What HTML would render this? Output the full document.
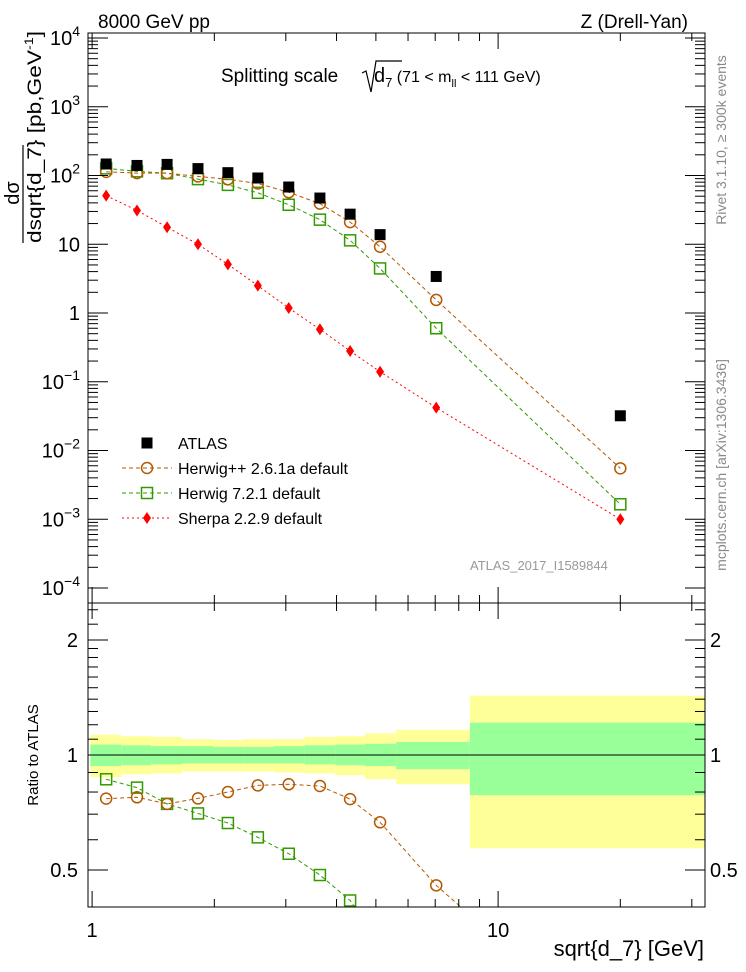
<!DOCTYPE html>
<html><head><meta charset="utf-8"><style>
html,body{margin:0;padding:0;background:#fff;overflow:hidden;width:746px;height:972px;}
svg{display:block;font-family:"Liberation Sans",sans-serif;}
</style></head><body>
<svg id="c" width="746" height="972" viewBox="0 0 746 972" xmlns="http://www.w3.org/2000/svg">
<defs>
<clipPath id="clipMain"><rect x="88" y="33" width="617" height="570"/></clipPath>
<clipPath id="clipRatio"><rect x="88" y="603" width="617" height="304"/></clipPath>
</defs>
<g id="bands" clip-path="url(#clipRatio)"></g>
<line x1="88" x2="705" y1="755" y2="755" stroke="#000" stroke-width="1"/>
<g id="series"></g>
<g id="axes"></g>
<text x="98" y="28" font-size="19">8000 GeV pp</text>
<text x="688" y="28" font-size="19" text-anchor="end">Z (Drell-Yan)</text>
<g>
<text x="221" y="82" font-size="19">Splitting scale</text>
<path d="M362 73 L366 71 L371 92 L376 61 L402 61" fill="none" stroke="#000" stroke-width="1.2"/>
<text x="374" y="82" font-size="20">d<tspan font-size="13" dy="5">7</tspan><tspan font-size="16" dy="-5"> (71 &lt; m</tspan><tspan font-size="11" dy="5">ll</tspan><tspan font-size="16" dy="-5"> &lt; 111 GeV)</tspan></text>
</g>
<text x="470" y="570" font-size="13" fill="#999">ATLAS_2017_I1589844</text>
<g transform="rotate(-90)">
<text x="-193" y="19" font-size="20" text-anchor="middle">dσ</text>
<line x1="-243" x2="-145" y1="23" y2="23" stroke="#000" stroke-width="1.2"/>
<text x="-243" y="41" font-size="19" textLength="212" lengthAdjust="spacingAndGlyphs">dsqrt{d_7} [pb,GeV<tspan font-size="12" dy="-8">-1</tspan><tspan dy="8">]</tspan></text>
</g>
<text transform="translate(38,755) rotate(-90)" font-size="15" text-anchor="middle">Ratio to ATLAS</text>
<text x="704" y="956" font-size="22" text-anchor="end">sqrt{d_7} [GeV]</text>
<text transform="translate(726,140) rotate(-90)" font-size="14" fill="#888" text-anchor="middle">Rivet 3.1.10, ≥ 300k events</text>
<text transform="translate(726,465) rotate(-90)" font-size="14" fill="#888" text-anchor="middle">mcplots.cern.ch [arXiv:1306.3436]</text>
<g id="legend"></g>
<rect x="88" y="33" width="617" height="874" fill="none" stroke="#000" stroke-width="1"/>
<line x1="88" x2="705" y1="603" y2="603" stroke="#000" stroke-width="1"/>
</svg>
<script>
const xVals = [1.083,1.29,1.53,1.823,2.16,2.56,3.05,3.64,4.32,5.12,7.04,20];
const binEdges = [0.99,1.179,1.397,1.665,1.986,2.355,2.806,3.33,3.97,4.70,5.61,8.52,33];
const atlasVals = [147,140,145,126,110,92,68,47,27.4,13.8,3.4,0.032];
const herwigppVals = [113,108.5,108,97,88,76.6,57,39,21,9.2,1.55,0.0055];
const herwig7Vals = [127,115,108,88.6,73,56,37.5,22.8,11.4,4.45,0.60,0.00165];
const sherpaVals = [51,31,17.7,10,5.1,2.5,1.18,0.58,0.28,0.14,0.042,0.001];
const yellowHi = [1.13,1.12,1.115,1.10,1.095,1.10,1.10,1.115,1.12,1.14,1.164,1.43];
const yellowLo = [0.875,0.89,0.895,0.905,0.905,0.905,0.90,0.895,0.885,0.865,0.838,0.57];
const greenHi = [1.065,1.06,1.055,1.055,1.05,1.05,1.055,1.06,1.065,1.07,1.082,1.215];
const greenLo = [0.935,0.94,0.945,0.95,0.95,0.95,0.95,0.945,0.94,0.935,0.918,0.785];
const yTickLabels = ["10^-4","10^-3","10^-2","10^-1","1","10","10^2","10^3","10^4"];
const ratioTickLabels = ["0.5","1","2"];
const xTickLabels = ["1","10"];

const NS="http://www.w3.org/2000/svg";
const X0=0.977, XPX0=88, XDEC=406;
function xs(v){return XPX0+Math.log10(v/X0)*XDEC;}
function ys(v){return 38+(4-Math.log10(v))*68.75;}
function yr(r){return 755-Math.log2(r)*115;}
function mk(tag,attrs,parent){const e=document.createElementNS(NS,tag);for(const k in attrs)e.setAttribute(k,attrs[k]);parent.appendChild(e);return e;}

const bands=document.getElementById('bands');
for(let i=0;i<xVals.length;i++){
  const x1=xs(binEdges[i]), x2=xs(binEdges[i+1]);
  const y=mk('rect',{x:x1,y:yr(yellowHi[i]),width:x2-x1,height:yr(yellowLo[i])-yr(yellowHi[i]),fill:'#ffff99'},bands);
  
  
  const g=mk('rect',{x:x1,y:yr(greenHi[i]),width:x2-x1,height:yr(greenLo[i])-yr(greenHi[i]),fill:'#99ff99'},bands);
  
  
}

const series=document.getElementById('series');
const gm=mk('g',{'clip-path':'url(#clipMain)'},series);
const gr=mk('g',{'clip-path':'url(#clipRatio)'},series);

function marker(type,cx,cy,color,parent){
  let e;
  if(type==='sq') e=mk('rect',{x:cx-5.5,y:cy-5.5,width:11,height:11,fill:'#000'},parent);
  else if(type==='circ') e=mk('circle',{cx:cx,cy:cy,r:5.5,fill:'none',stroke:color,'stroke-width':1.5},parent);
  else if(type==='osq') e=mk('rect',{x:cx-5.5,y:cy-5.5,width:11,height:11,fill:'none',stroke:color,'stroke-width':1.5},parent);
  else e=mk('path',{d:`M${cx} ${cy-6}L${cx+4} ${cy}L${cx} ${cy+6}L${cx-4} ${cy}Z`,fill:color},parent);
  return e;
}
function drawSeries(vals,type,color,dash,name){
  const pts=xVals.map((x,i)=>[xs(x),ys(vals[i])]);
  if(dash){
    const l=mk('polyline',{points:pts.map(p=>p.join(',')).join(' '),fill:'none',stroke:color,'stroke-width':1,'stroke-dasharray':dash},gm);
    
    
  }
  pts.forEach(p=>{
    const m=marker(type,p[0],p[1],color,gm);
    
    
  });
  if(type!=='sq'){
    const rp=xVals.map((x,i)=>[xs(x),yr(vals[i]/atlasVals[i])]);
    const l2=mk('polyline',{points:rp.map(p=>p.join(',')).join(' '),fill:'none',stroke:color,'stroke-width':1,'stroke-dasharray':dash},gr);
    
    
    rp.forEach(p=>{
      const m=marker(type,p[0],p[1],color,gr);
      
      
    });
  }
}
drawSeries(sherpaVals,'dia','#ff0000','2,3','sherpa');
drawSeries(herwig7Vals,'osq','#339900','4,3','herwig7');
drawSeries(herwigppVals,'circ','#b35900','4,3','herwigpp');
drawSeries(atlasVals,'sq','#000',null,'atlas');

const ax=document.getElementById('axes');
function tick(x1,y1,x2,y2,name){const t=mk('line',{x1,y1,x2,y2,stroke:'#000','stroke-width':1},ax);}
const minorX=[2,3,4,5,6,7,8,9,20,30];
[1,10].forEach(v=>{const x=xs(v);tick(x,907,x,891,'x-major-tick');tick(x,603,x,587,'x-major-tick');tick(x,33,x,49,'x-major-tick');tick(x,603,x,619,'x-major-tick');});
minorX.forEach(v=>{const x=xs(v);tick(x,907,x,899,'x-minor-tick');tick(x,603,x,595,'x-minor-tick');tick(x,33,x,41,'x-minor-tick');tick(x,603,x,611,'x-minor-tick');});
xTickLabels.forEach(s=>{const t=mk('text',{x:xs(parseFloat(s)),y:937,'font-size':20,'text-anchor':'middle'},ax);t.textContent=s;});
yTickLabels.forEach(s=>{
  const p=s==='1'?0:s==='10'?1:parseInt(s.split('^')[1]);
  const y=ys(Math.pow(10,p));
  tick(88,y,108,y,'y-major-tick');tick(705,y,685,y,'y-major-tick');
  for(let k=2;k<=9;k++){const yy=ys(k*Math.pow(10,p));if(yy>33&&yy<603){tick(88,yy,98,yy,'y-minor-tick');tick(705,yy,695,yy,'y-minor-tick');}}
  const t=mk('text',{x:80,y:y+7,'font-size':20,'text-anchor':'end'},ax);
  
  if(s.includes('^')){t.textContent='10';const sp=mk('tspan',{'font-size':14,dy:-9},t);sp.textContent=s.split('^')[1].replace('-','−');}
  else t.textContent=s;
});
ratioTickLabels.forEach(s=>{
  const y=yr(parseFloat(s));
  tick(88,y,108,y,'ratio-major-tick');tick(705,y,685,y,'ratio-major-tick');
  const t=mk('text',{x:78,y:y+7,'font-size':20,'text-anchor':'end'},ax);t.textContent=s;
  const t2=mk('text',{x:710,y:y+7,'font-size':20},ax);t2.textContent=s;
});
[0.4,0.6,0.7,0.8,0.9,1.1,1.2,1.3,1.4,1.5,1.6,1.7,1.8,1.9,2.2,2.4].forEach(r=>{const y=yr(r);if(y>603&&y<907){tick(88,y,98,y,'ratio-minor-tick');tick(705,y,695,y,'ratio-minor-tick');}});

const lg=document.getElementById('legend');
const legendNames=["ATLAS","Herwig++ 2.6.1a default","Herwig 7.2.1 default","Sherpa 2.2.9 default"];
const legendTypes=['sq','circ','osq','dia'];
const legendColors=['#000','#b35900','#339900','#ff0000'];
const legendDash=[null,'4,3','4,3','2,3'];
legendNames.forEach((n,i)=>{
  const y=443+i*25;
  const g=mk('g',{},lg);
  
  
  if(legendDash[i])mk('line',{x1:122,x2:172,y1:y,y2:y,stroke:legendColors[i],'stroke-dasharray':legendDash[i]},g);
  marker(legendTypes[i],147,y,legendColors[i],g);
  const t=mk('text',{x:178,y:y+6,'font-size':16},g);t.textContent=n;
});
</script>
</body></html>
